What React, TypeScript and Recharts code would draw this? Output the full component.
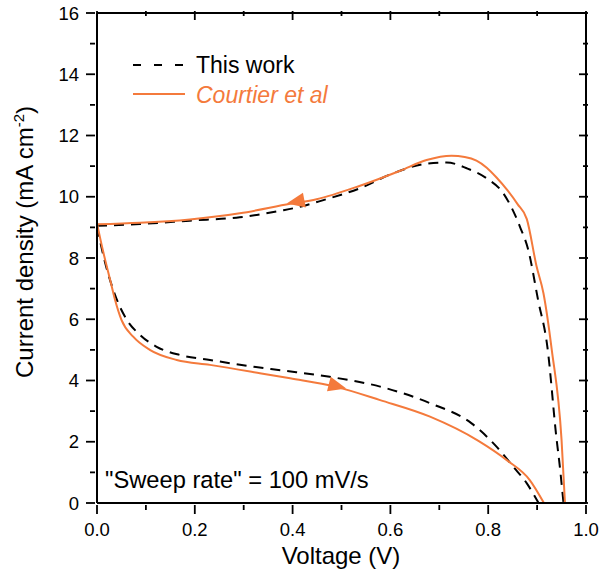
import React from "react";
import { LineChart, Line, XAxis, YAxis, ReferenceDot } from "recharts";

// axis ticks (major ones get a label)
const xMajorTicks = [0, 0.2, 0.4, 0.6, 0.8, 1.0];
const xMinorTicks = [0.1, 0.3, 0.5, 0.7, 0.9];
const yMajorTicks = [0, 2, 4, 6, 8, 10, 12, 14, 16];
const yMinorTicks = [1, 3, 5, 7, 9, 11, 13, 15];

// [voltage (V), current density (mA cm-2)]
const thisWorkForward: [number, number][] = [
  [0, 9.02], [0.015, 7.95], [0.037, 6.79], [0.061, 5.98], [0.088, 5.49],
  [0.122, 5.1], [0.17, 4.83], [0.231, 4.67], [0.32, 4.45], [0.378, 4.33],
  [0.476, 4.12], [0.579, 3.8], [0.681, 3.26], [0.766, 2.6], [0.817, 1.84],
  [0.851, 1.19], [0.879, 0.64], [0.903, 0],
];
const thisWorkReverse: [number, number][] = [
  [0, 9.05], [0.088, 9.11], [0.19, 9.22], [0.292, 9.33], [0.374, 9.54],
  [0.415, 9.67], [0.463, 9.89], [0.538, 10.28], [0.606, 10.77], [0.674, 11.08],
  [0.715, 11.12], [0.756, 10.93], [0.797, 10.6], [0.831, 10.11], [0.865, 9.02],
  [0.882, 8.26], [0.902, 6.63], [0.921, 5.1], [0.94, 2.06], [0.945, 1.4],
  [0.954, 0],
];
const courtierForward: [number, number][] = [
  [0, 9.13], [0.012, 8.25], [0.027, 7.28], [0.037, 6.63], [0.05, 5.98],
  [0.074, 5.43], [0.108, 5.0], [0.163, 4.67], [0.231, 4.51], [0.333, 4.24],
  [0.395, 4.07], [0.487, 3.8], [0.579, 3.36], [0.681, 2.82], [0.78, 2.03],
  [0.838, 1.4], [0.885, 0.75], [0.914, 0],
];
const courtierReverse: [number, number][] = [
  [0, 9.1], [0.088, 9.15], [0.19, 9.26], [0.292, 9.46], [0.395, 9.77],
  [0.449, 9.92], [0.538, 10.36], [0.62, 10.85], [0.674, 11.2], [0.725, 11.34],
  [0.752, 11.3], [0.776, 11.18], [0.797, 10.95], [0.817, 10.63], [0.84, 10.2],
  [0.86, 9.76], [0.879, 9.27], [0.899, 7.72], [0.913, 6.85], [0.93, 5.0],
  [0.95, 2.06], [0.957, 0],
];
// sweep direction markers on the Courtier curve
const sweepArrows = [
  { v: 0.408, j: 9.84, angle: 169 },
  { v: 0.49, j: 3.82, angle: 14 },
];

const ORANGE = "#F47A3C";
const FONT = "'Liberation Sans', Arial, sans-serif";
const AXIS = { stroke: "#000", strokeWidth: 2 };
const DASH = "10 7";

const toPoints = (rows: [number, number][]) => rows.map(([v, j]) => ({ v, j }));
const allX = [...xMajorTicks, ...xMinorTicks].sort((a, b) => a - b);
const allY = [...yMajorTicks, ...yMinorTicks].sort((a, b) => a - b);

const BottomTick = ({ x, y, payload }: any) => {
  const major = xMajorTicks.includes(payload.value);
  return (
    <g>
      <line x1={x} x2={x} y1={y} y2={y + (major ? 9 : 5)} stroke="#000" strokeWidth={1.8} />
      {major && (
        <text x={x} y={y + 31} textAnchor="middle" fontSize={18.5} fontFamily={FONT} fill="#000">
          {payload.value.toFixed(1)}
        </text>
      )}
    </g>
  );
};

const LeftTick = ({ x, y, payload }: any) => {
  const major = yMajorTicks.includes(payload.value);
  return (
    <g>
      <line x1={x} x2={x - (major ? 9 : 5)} y1={y} y2={y} stroke="#000" strokeWidth={1.8} />
      {major && (
        <text x={x - 16} y={y + 6.5} textAnchor="end" fontSize={18.5} fontFamily={FONT} fill="#000">
          {payload.value}
        </text>
      )}
    </g>
  );
};

const TopTick = ({ x, y, payload }: any) => (
  <line x1={x} x2={x} y1={y} y2={y + (xMajorTicks.includes(payload.value) ? 9 : 5)} stroke="#000" strokeWidth={1.8} />
);

const RightTick = ({ x, y, payload }: any) => (
  <line x1={x} x2={x - (yMajorTicks.includes(payload.value) ? 9 : 5)} y1={y} y2={y} stroke="#000" strokeWidth={1.8} />
);

const Arrow = ({ cx, cy, angle }: any) => (
  <polygon
    points="10,0 -8,-7.5 -8,7.5"
    fill={ORANGE}
    transform={`translate(${cx},${cy}) rotate(${angle})`}
  />
);

export default function App() {
  return (
    <div style={{ position: "fixed", left: 0, top: 0, width: 601, height: 578, background: "#fff" }}>
      <LineChart width={601} height={578} margin={{ top: 12, right: 14, bottom: 0, left: 0 }}>
        <XAxis
          dataKey="v"
          type="number"
          domain={[0, 1]}
          ticks={allX}
          interval={0}
          height={75}
          tickSize={0}
          tickLine={false}
          tick={<BottomTick />}
          axisLine={AXIS}
        />
        <XAxis
          xAxisId="top"
          dataKey="v"
          orientation="top"
          type="number"
          domain={[0, 1]}
          ticks={allX}
          interval={0}
          height={1}
          tickSize={0}
          tickLine={false}
          tick={<TopTick />}
          axisLine={AXIS}
        />
        <YAxis
          type="number"
          domain={[0, 16]}
          ticks={allY}
          interval={0}
          width={97}
          tickSize={0}
          tickLine={false}
          tick={<LeftTick />}
          axisLine={AXIS}
        />
        <YAxis
          yAxisId="right"
          orientation="right"
          type="number"
          domain={[0, 16]}
          ticks={allY}
          interval={0}
          width={1}
          tickSize={0}
          tickLine={false}
          tick={<RightTick />}
          axisLine={AXIS}
        />
        {/* invisible series so the mirrored frame axes get drawn */}
        <Line xAxisId="top" yAxisId="right" data={toPoints(courtierForward)} dataKey="j" stroke="none" dot={false} activeDot={false} isAnimationActive={false} />
        <Line data={toPoints(thisWorkForward)} dataKey="j" type="monotone" stroke="#000" strokeWidth={2} strokeDasharray={DASH} dot={false} isAnimationActive={false} />
        <Line data={toPoints(thisWorkReverse)} dataKey="j" type="monotone" stroke="#000" strokeWidth={2} strokeDasharray={DASH} dot={false} isAnimationActive={false} />
        <Line data={toPoints(courtierForward)} dataKey="j" type="monotone" stroke={ORANGE} strokeWidth={2} dot={false} isAnimationActive={false} />
        <Line data={toPoints(courtierReverse)} dataKey="j" type="monotone" stroke={ORANGE} strokeWidth={2} dot={false} isAnimationActive={false} />
        {sweepArrows.map((a, i) => (
          <ReferenceDot key={i} x={a.v} y={a.j} r={0} shape={(p: any) => <Arrow {...p} angle={a.angle} />} />
        ))}
      </LineChart>
      <svg width={601} height={578} style={{ position: "absolute", left: 0, top: 0, pointerEvents: "none" }} fontFamily={FONT}>
        <line x1={133} x2={184} y1={65} y2={65} stroke="#000" strokeWidth={2} strokeDasharray="8 13" />
        <text x={196} y={73} fontSize={23} fill="#000">This work</text>
        <line x1={133} x2={185} y1={94} y2={94} stroke={ORANGE} strokeWidth={2} />
        <text x={196} y={103} fontSize={23} fill={ORANGE} fontStyle="italic">Courtier et al</text>
        <text x={105} y={488} fontSize={23.7} fill="#000">"Sweep rate" = 100 mV/s</text>
        <text x={341} y={564} fontSize={24} fill="#000" textAnchor="middle">Voltage (V)</text>
        <text x={33} y={242} fontSize={24} fill="#000" textAnchor="middle" transform="rotate(-90 33 242)">
          Current density (mA cm<tspan fontSize={15} dy={-9}>-2</tspan><tspan dy={9}>)</tspan>
        </text>
      </svg>
    </div>
  );
}
